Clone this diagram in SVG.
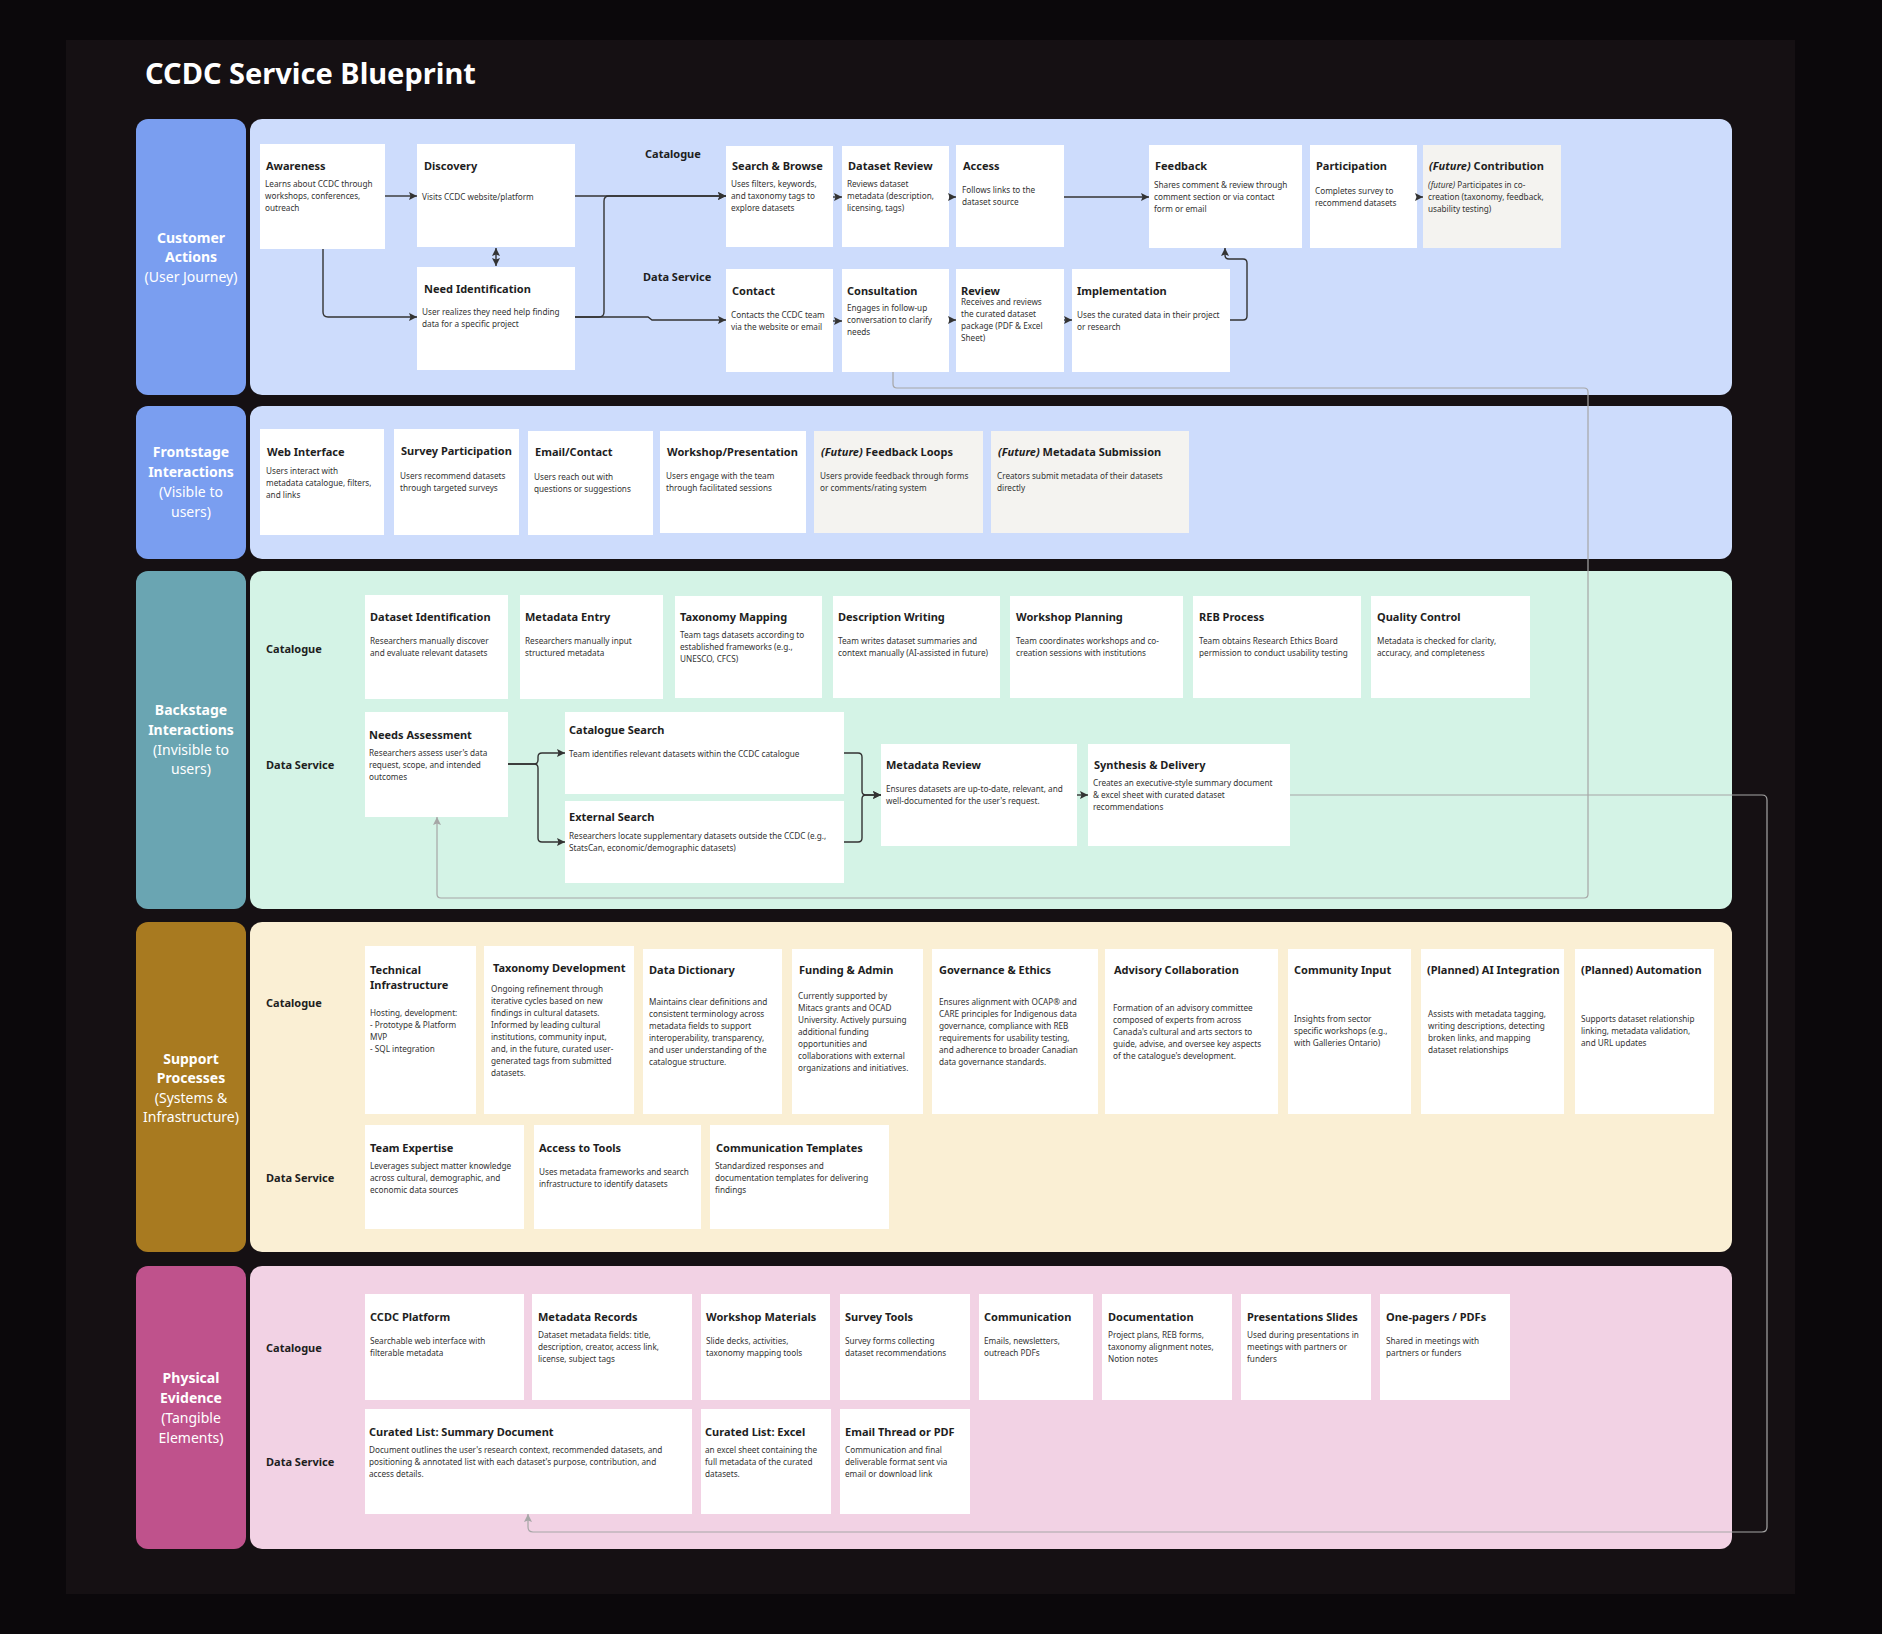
<svg xmlns="http://www.w3.org/2000/svg" width="1882" height="1634" viewBox="0 0 1882 1634">
<style>
.box{fill:#ffffff}
.fut{fill:#f4f3f0}
.t{font-family:"Noto Sans","Open Sans",sans-serif;font-weight:700;font-size:11px;fill:#1e1e1e}
.d{font-family:"Noto Sans","Open Sans",sans-serif;font-weight:400;font-size:8.2px;fill:#333333}
.rl{font-family:"Noto Sans","Open Sans",sans-serif;font-weight:700;font-size:11px;fill:#1e1e1e}
.ll{font-family:"Noto Sans","Open Sans",sans-serif;font-weight:700;font-size:14px;fill:#ffffff;text-anchor:middle}
.lr{font-weight:400}
.it{font-style:italic}
.c{fill:none;stroke:#333333;stroke-width:1.4}
.g{fill:none;stroke:#a6a6a6;stroke-width:1.2}
</style>
<defs>
<marker id="ah" viewBox="0 0 8 8" refX="8" refY="4" markerWidth="8" markerHeight="8" markerUnits="userSpaceOnUse" orient="auto-start-reverse"><path d="M0,0 L8,4 L0,8 L1.5,4 z" fill="#333333"/></marker>
<marker id="ahg" viewBox="0 0 8 8" refX="8" refY="4" markerWidth="8" markerHeight="8" markerUnits="userSpaceOnUse" orient="auto"><path d="M0,0 L8,4 L0,8 L1.5,4 z" fill="#a6a6a6"/></marker>
</defs>
<rect x="0" y="0" width="1882" height="1634" fill="#0b080b"/>
<rect x="66" y="40" width="1729" height="1554" fill="#151013"/>
<text x="145" y="84" font-family="Noto Sans, Open Sans, sans-serif" font-weight="700" font-size="29" fill="#ffffff">CCDC Service Blueprint</text>

<!-- Lanes -->
<g id="lane-customer">
<rect x="136" y="119" width="110" height="276" rx="12" fill="#7a9ef0"/>
<rect x="250" y="119" width="1482" height="276" rx="12" fill="#cddcfc"/>
<text class="ll"><tspan x="191" y="243">Customer</tspan><tspan x="191" y="262">Actions</tspan><tspan x="191" y="282" class="lr">(User Journey)</tspan></text>
<text class="rl" x="645" y="158">Catalogue</text>
<text class="rl" x="643" y="281">Data Service</text>
</g>
<g id="lane-frontstage">
<rect x="136" y="406" width="110" height="153" rx="12" fill="#7a9ef0"/>
<rect x="250" y="406" width="1482" height="153" rx="12" fill="#cddcfc"/>
<text class="ll"><tspan x="191" y="457">Frontstage</tspan><tspan x="191" y="477">Interactions</tspan><tspan x="191" y="497" class="lr">(Visible to</tspan><tspan x="191" y="517" class="lr">users)</tspan></text>
</g>
<g id="lane-backstage">
<rect x="136" y="571" width="110" height="338" rx="12" fill="#6aa5b2"/>
<rect x="250" y="571" width="1482" height="338" rx="12" fill="#d4f3e6"/>
<text class="ll"><tspan x="191" y="715">Backstage</tspan><tspan x="191" y="735">Interactions</tspan><tspan x="191" y="755" class="lr">(Invisible to</tspan><tspan x="191" y="774" class="lr">users)</tspan></text>
<text class="rl" x="266" y="653">Catalogue</text>
<text class="rl" x="266" y="769">Data Service</text>
</g>
<g id="lane-support">
<rect x="136" y="922" width="110" height="330" rx="12" fill="#a87a20"/>
<rect x="250" y="922" width="1482" height="330" rx="12" fill="#faefd4"/>
<text class="ll"><tspan x="191" y="1064">Support</tspan><tspan x="191" y="1083">Processes</tspan><tspan x="191" y="1103" class="lr">(Systems &amp;</tspan><tspan x="191" y="1122" class="lr">Infrastructure)</tspan></text>
<text class="rl" x="266" y="1007">Catalogue</text>
<text class="rl" x="266" y="1182">Data Service</text>
</g>
<g id="lane-physical">
<rect x="136" y="1266" width="110" height="283" rx="12" fill="#bf528c"/>
<rect x="250" y="1266" width="1482" height="283" rx="12" fill="#f2d2e4"/>
<text class="ll"><tspan x="191" y="1383">Physical</tspan><tspan x="191" y="1403">Evidence</tspan><tspan x="191" y="1423" class="lr">(Tangible</tspan><tspan x="191" y="1443" class="lr">Elements)</tspan></text>
<text class="rl" x="266" y="1352">Catalogue</text>
<text class="rl" x="266" y="1466">Data Service</text>
</g>

<!-- Customer Actions nodes -->
<g id="awareness"><rect class="box" x="260" y="144" width="125" height="105"/><text class="t" x="266" y="170">Awareness</text><text class="d"><tspan x="265" y="187">Learns about CCDC through</tspan><tspan x="265" y="199">workshops, conferences,</tspan><tspan x="265" y="211">outreach</tspan></text></g>
<g id="discovery"><rect class="box" x="417" y="144" width="158" height="103"/><text class="t" x="424" y="170">Discovery</text><text class="d"><tspan x="422" y="200">Visits CCDC website/platform</tspan></text></g>
<g id="need-identification"><rect class="box" x="417" y="267" width="158" height="103"/><text class="t" x="424" y="293">Need Identification</text><text class="d"><tspan x="422" y="315">User realizes they need help finding</tspan><tspan x="422" y="327">data for a specific project</tspan></text></g>
<g id="search-browse"><rect class="box" x="726" y="146" width="107" height="101"/><text class="t" x="732" y="170">Search &amp; Browse</text><text class="d"><tspan x="731" y="187">Uses filters, keywords,</tspan><tspan x="731" y="199">and taxonomy tags to</tspan><tspan x="731" y="211">explore datasets</tspan></text></g>
<g id="dataset-review"><rect class="box" x="842" y="146" width="107" height="101"/><text class="t" x="848" y="170">Dataset Review</text><text class="d"><tspan x="847" y="187">Reviews dataset</tspan><tspan x="847" y="199">metadata (description,</tspan><tspan x="847" y="211">licensing, tags)</tspan></text></g>
<g id="access"><rect class="box" x="956" y="145" width="108" height="102"/><text class="t" x="963" y="170">Access</text><text class="d"><tspan x="962" y="193">Follows links to the</tspan><tspan x="962" y="205">dataset source</tspan></text></g>
<g id="feedback"><rect class="box" x="1149" y="145" width="153" height="103"/><text class="t" x="1155" y="170">Feedback</text><text class="d"><tspan x="1154" y="188">Shares comment &amp; review through</tspan><tspan x="1154" y="200">comment section or via contact</tspan><tspan x="1154" y="212">form or email</tspan></text></g>
<g id="participation"><rect class="box" x="1310" y="145" width="107" height="103"/><text class="t" x="1316" y="170">Participation</text><text class="d"><tspan x="1315" y="194">Completes survey to</tspan><tspan x="1315" y="206">recommend datasets</tspan></text></g>
<g id="contribution"><rect class="fut" x="1423" y="145" width="138" height="103"/><text class="t" x="1429" y="170"><tspan class="it">(Future)</tspan> Contribution</text><text class="d"><tspan x="1428" y="188"><tspan class="it">(future)</tspan> Participates in co-</tspan><tspan x="1428" y="200">creation (taxonomy, feedback,</tspan><tspan x="1428" y="212">usability testing)</tspan></text></g>
<g id="contact"><rect class="box" x="726" y="269" width="107" height="103"/><text class="t" x="732" y="295">Contact</text><text class="d"><tspan x="731" y="318">Contacts the CCDC team</tspan><tspan x="731" y="330">via the website or email</tspan></text></g>
<g id="consultation"><rect class="box" x="842" y="269" width="107" height="103"/><text class="t" x="847" y="295">Consultation</text><text class="d"><tspan x="847" y="311">Engages in follow-up</tspan><tspan x="847" y="323">conversation to clarify</tspan><tspan x="847" y="335">needs</tspan></text></g>
<g id="review"><rect class="box" x="956" y="269" width="108" height="103"/><text class="t" x="961" y="295">Review</text><text class="d"><tspan x="961" y="305">Receives and reviews</tspan><tspan x="961" y="317">the curated dataset</tspan><tspan x="961" y="329">package (PDF &amp; Excel</tspan><tspan x="961" y="341">Sheet)</tspan></text></g>
<g id="implementation"><rect class="box" x="1072" y="269" width="158" height="103"/><text class="t" x="1077" y="295">Implementation</text><text class="d"><tspan x="1077" y="318">Uses the curated data in their project</tspan><tspan x="1077" y="330">or research</tspan></text></g>

<!-- Frontstage nodes -->
<g id="web-interface"><rect class="box" x="260" y="429" width="124" height="106"/><text class="t" x="267" y="456">Web Interface</text><text class="d"><tspan x="266" y="474">Users interact with</tspan><tspan x="266" y="486">metadata catalogue, filters,</tspan><tspan x="266" y="498">and links</tspan></text></g>
<g id="survey-participation"><rect class="box" x="394" y="429" width="125" height="106"/><text class="t" x="401" y="455">Survey Participation</text><text class="d"><tspan x="400" y="479">Users recommend datasets</tspan><tspan x="400" y="491">through targeted surveys</tspan></text></g>
<g id="email-contact"><rect class="box" x="528" y="431" width="125" height="104"/><text class="t" x="535" y="456">Email/Contact</text><text class="d"><tspan x="534" y="480">Users reach out with</tspan><tspan x="534" y="492">questions or suggestions</tspan></text></g>
<g id="workshop-presentation"><rect class="box" x="660" y="431" width="146" height="102"/><text class="t" x="667" y="456">Workshop/Presentation</text><text class="d"><tspan x="666" y="479">Users engage with the team</tspan><tspan x="666" y="491">through facilitated sessions</tspan></text></g>
<g id="feedback-loops"><rect class="fut" x="814" y="431" width="169" height="102"/><text class="t" x="821" y="456"><tspan class="it">(Future)</tspan> Feedback Loops</text><text class="d"><tspan x="820" y="479">Users provide feedback through forms</tspan><tspan x="820" y="491">or comments/rating system</tspan></text></g>
<g id="metadata-submission"><rect class="fut" x="991" y="431" width="198" height="102"/><text class="t" x="998" y="456"><tspan class="it">(Future)</tspan> Metadata Submission</text><text class="d"><tspan x="997" y="479">Creators submit metadata of their datasets</tspan><tspan x="997" y="491">directly</tspan></text></g>

<!-- Backstage nodes -->
<g id="dataset-identification"><rect class="box" x="365" y="595" width="143" height="104"/><text class="t" x="370" y="621">Dataset Identification</text><text class="d"><tspan x="370" y="644">Researchers manually discover</tspan><tspan x="370" y="656">and evaluate relevant datasets</tspan></text></g>
<g id="metadata-entry"><rect class="box" x="520" y="595" width="143" height="104"/><text class="t" x="525" y="621">Metadata Entry</text><text class="d"><tspan x="525" y="644">Researchers manually input</tspan><tspan x="525" y="656">structured metadata</tspan></text></g>
<g id="taxonomy-mapping"><rect class="box" x="675" y="596" width="147" height="102"/><text class="t" x="680" y="621">Taxonomy Mapping</text><text class="d"><tspan x="680" y="638">Team tags datasets according to</tspan><tspan x="680" y="650">established frameworks (e.g.,</tspan><tspan x="680" y="662">UNESCO, CFCS)</tspan></text></g>
<g id="description-writing"><rect class="box" x="833" y="596" width="167" height="102"/><text class="t" x="838" y="621">Description Writing</text><text class="d"><tspan x="838" y="644">Team writes dataset summaries and</tspan><tspan x="838" y="656">context manually (AI-assisted in future)</tspan></text></g>
<g id="workshop-planning"><rect class="box" x="1010" y="596" width="173" height="102"/><text class="t" x="1016" y="621">Workshop Planning</text><text class="d"><tspan x="1016" y="644">Team coordinates workshops and co-</tspan><tspan x="1016" y="656">creation sessions with institutions</tspan></text></g>
<g id="reb-process"><rect class="box" x="1193" y="596" width="168" height="102"/><text class="t" x="1199" y="621">REB Process</text><text class="d"><tspan x="1199" y="644">Team obtains Research Ethics Board</tspan><tspan x="1199" y="656">permission to conduct usability testing</tspan></text></g>
<g id="quality-control"><rect class="box" x="1371" y="596" width="159" height="102"/><text class="t" x="1377" y="621">Quality Control</text><text class="d"><tspan x="1377" y="644">Metadata is checked for clarity,</tspan><tspan x="1377" y="656">accuracy, and completeness</tspan></text></g>
<g id="needs-assessment"><rect class="box" x="365" y="712" width="143" height="105"/><text class="t" x="369" y="739">Needs Assessment</text><text class="d"><tspan x="369" y="756">Researchers assess user's data</tspan><tspan x="369" y="768">request, scope, and intended</tspan><tspan x="369" y="780">outcomes</tspan></text></g>
<g id="catalogue-search"><rect class="box" x="565" y="712" width="279" height="82"/><text class="t" x="569" y="734">Catalogue Search</text><text class="d"><tspan x="569" y="757">Team identifies relevant datasets within the CCDC catalogue</tspan></text></g>
<g id="external-search"><rect class="box" x="565" y="801" width="279" height="82"/><text class="t" x="569" y="821">External Search</text><text class="d"><tspan x="569" y="839">Researchers locate supplementary datasets outside the CCDC (e.g.,</tspan><tspan x="569" y="851">StatsCan, economic/demographic datasets)</tspan></text></g>
<g id="metadata-review"><rect class="box" x="881" y="744" width="196" height="102"/><text class="t" x="886" y="769">Metadata Review</text><text class="d"><tspan x="886" y="792">Ensures datasets are up-to-date, relevant, and</tspan><tspan x="886" y="804">well-documented for the user's request.</tspan></text></g>
<g id="synthesis-delivery"><rect class="box" x="1088" y="744" width="202" height="102"/><text class="t" x="1094" y="769">Synthesis &amp; Delivery</text><text class="d"><tspan x="1093" y="786">Creates an executive-style summary document</tspan><tspan x="1093" y="798">&amp; excel sheet with curated dataset</tspan><tspan x="1093" y="810">recommendations</tspan></text></g>

<!-- Support nodes -->
<g id="technical-infrastructure"><rect class="box" x="365" y="946" width="111" height="168"/><text class="t"><tspan x="370" y="974">Technical</tspan><tspan x="370" y="989">Infrastructure</tspan></text><text class="d"><tspan x="370" y="1016">Hosting, development:</tspan><tspan x="370" y="1028">- Prototype &amp; Platform</tspan><tspan x="370" y="1040">MVP</tspan><tspan x="370" y="1052">- SQL integration</tspan></text></g>
<g id="taxonomy-development"><rect class="box" x="484" y="946" width="150" height="168"/><text class="t" x="493" y="972">Taxonomy Development</text><text class="d"><tspan x="491" y="992">Ongoing refinement through</tspan><tspan x="491" y="1004">iterative cycles based on new</tspan><tspan x="491" y="1016">findings in cultural datasets.</tspan><tspan x="491" y="1028">Informed by leading cultural</tspan><tspan x="491" y="1040">institutions, community input,</tspan><tspan x="491" y="1052">and, in the future, curated user-</tspan><tspan x="491" y="1064">generated tags from submitted</tspan><tspan x="491" y="1076">datasets.</tspan></text></g>
<g id="data-dictionary"><rect class="box" x="643" y="949" width="139" height="165"/><text class="t" x="649" y="974">Data Dictionary</text><text class="d"><tspan x="649" y="1005">Maintains clear definitions and</tspan><tspan x="649" y="1017">consistent terminology across</tspan><tspan x="649" y="1029">metadata fields to support</tspan><tspan x="649" y="1041">interoperability, transparency,</tspan><tspan x="649" y="1053">and user understanding of the</tspan><tspan x="649" y="1065">catalogue structure.</tspan></text></g>
<g id="funding-admin"><rect class="box" x="792" y="949" width="131" height="165"/><text class="t" x="799" y="974">Funding &amp; Admin</text><text class="d"><tspan x="798" y="999">Currently supported by</tspan><tspan x="798" y="1011">Mitacs grants and OCAD</tspan><tspan x="798" y="1023">University. Actively pursuing</tspan><tspan x="798" y="1035">additional funding</tspan><tspan x="798" y="1047">opportunities and</tspan><tspan x="798" y="1059">collaborations with external</tspan><tspan x="798" y="1071">organizations and initiatives.</tspan></text></g>
<g id="governance-ethics"><rect class="box" x="932" y="949" width="166" height="165"/><text class="t" x="939" y="974">Governance &amp; Ethics</text><text class="d"><tspan x="939" y="1005">Ensures alignment with OCAP® and</tspan><tspan x="939" y="1017">CARE principles for Indigenous data</tspan><tspan x="939" y="1029">governance, compliance with REB</tspan><tspan x="939" y="1041">requirements for usability testing,</tspan><tspan x="939" y="1053">and adherence to broader Canadian</tspan><tspan x="939" y="1065">data governance standards.</tspan></text></g>
<g id="advisory-collaboration"><rect class="box" x="1105" y="949" width="173" height="165"/><text class="t" x="1114" y="974">Advisory Collaboration</text><text class="d"><tspan x="1113" y="1011">Formation of an advisory committee</tspan><tspan x="1113" y="1023">composed of experts from across</tspan><tspan x="1113" y="1035">Canada's cultural and arts sectors to</tspan><tspan x="1113" y="1047">guide, advise, and oversee key aspects</tspan><tspan x="1113" y="1059">of the catalogue's development.</tspan></text></g>
<g id="community-input"><rect class="box" x="1288" y="949" width="123" height="165"/><text class="t" x="1294" y="974">Community Input</text><text class="d"><tspan x="1294" y="1022">Insights from sector</tspan><tspan x="1294" y="1034">specific workshops (e.g.,</tspan><tspan x="1294" y="1046">with Galleries Ontario)</tspan></text></g>
<g id="ai-integration"><rect class="box" x="1421" y="949" width="143" height="165"/><text class="t" x="1427" y="974">(Planned) AI Integration</text><text class="d"><tspan x="1428" y="1017">Assists with metadata tagging,</tspan><tspan x="1428" y="1029">writing descriptions, detecting</tspan><tspan x="1428" y="1041">broken links, and mapping</tspan><tspan x="1428" y="1053">dataset relationships</tspan></text></g>
<g id="automation"><rect class="box" x="1575" y="949" width="139" height="165"/><text class="t" x="1581" y="974">(Planned) Automation</text><text class="d"><tspan x="1581" y="1022">Supports dataset relationship</tspan><tspan x="1581" y="1034">linking, metadata validation,</tspan><tspan x="1581" y="1046">and URL updates</tspan></text></g>
<g id="team-expertise"><rect class="box" x="365" y="1125" width="159" height="104"/><text class="t" x="370" y="1152">Team Expertise</text><text class="d"><tspan x="370" y="1169">Leverages subject matter knowledge</tspan><tspan x="370" y="1181">across cultural, demographic, and</tspan><tspan x="370" y="1193">economic data sources</tspan></text></g>
<g id="access-tools"><rect class="box" x="534" y="1125" width="167" height="104"/><text class="t" x="539" y="1152">Access to Tools</text><text class="d"><tspan x="539" y="1175">Uses metadata frameworks and search</tspan><tspan x="539" y="1187">infrastructure to identify datasets</tspan></text></g>
<g id="communication-templates"><rect class="box" x="710" y="1125" width="179" height="104"/><text class="t" x="716" y="1152">Communication Templates</text><text class="d"><tspan x="715" y="1169">Standardized responses and</tspan><tspan x="715" y="1181">documentation templates for delivering</tspan><tspan x="715" y="1193">findings</tspan></text></g>

<!-- Physical nodes -->
<g id="ccdc-platform"><rect class="box" x="365" y="1294" width="159" height="106"/><text class="t" x="370" y="1321">CCDC Platform</text><text class="d"><tspan x="370" y="1344">Searchable web interface with</tspan><tspan x="370" y="1356">filterable metadata</tspan></text></g>
<g id="metadata-records"><rect class="box" x="532" y="1294" width="160" height="106"/><text class="t" x="538" y="1321">Metadata Records</text><text class="d"><tspan x="538" y="1338">Dataset metadata fields: title,</tspan><tspan x="538" y="1350">description, creator, access link,</tspan><tspan x="538" y="1362">license, subject tags</tspan></text></g>
<g id="workshop-materials"><rect class="box" x="701" y="1294" width="129" height="106"/><text class="t" x="706" y="1321">Workshop Materials</text><text class="d"><tspan x="706" y="1344">Slide decks, activities,</tspan><tspan x="706" y="1356">taxonomy mapping tools</tspan></text></g>
<g id="survey-tools"><rect class="box" x="840" y="1294" width="130" height="106"/><text class="t" x="845" y="1321">Survey Tools</text><text class="d"><tspan x="845" y="1344">Survey forms collecting</tspan><tspan x="845" y="1356">dataset recommendations</tspan></text></g>
<g id="communication"><rect class="box" x="979" y="1294" width="114" height="106"/><text class="t" x="984" y="1321">Communication</text><text class="d"><tspan x="984" y="1344">Emails, newsletters,</tspan><tspan x="984" y="1356">outreach PDFs</tspan></text></g>
<g id="documentation"><rect class="box" x="1102" y="1294" width="130" height="106"/><text class="t" x="1108" y="1321">Documentation</text><text class="d"><tspan x="1108" y="1338">Project plans, REB forms,</tspan><tspan x="1108" y="1350">taxonomy alignment notes,</tspan><tspan x="1108" y="1362">Notion notes</tspan></text></g>
<g id="presentation-slides"><rect class="box" x="1241" y="1294" width="130" height="106"/><text class="t" x="1247" y="1321">Presentations Slides</text><text class="d"><tspan x="1247" y="1338">Used during presentations in</tspan><tspan x="1247" y="1350">meetings with partners or</tspan><tspan x="1247" y="1362">funders</tspan></text></g>
<g id="one-pagers"><rect class="box" x="1380" y="1294" width="130" height="106"/><text class="t" x="1386" y="1321">One-pagers / PDFs</text><text class="d"><tspan x="1386" y="1344">Shared in meetings with</tspan><tspan x="1386" y="1356">partners or funders</tspan></text></g>
<g id="summary-document"><rect class="box" x="365" y="1409" width="327" height="105"/><text class="t" x="369" y="1436">Curated List: Summary Document</text><text class="d"><tspan x="369" y="1453">Document outlines the user's research context, recommended datasets, and</tspan><tspan x="369" y="1465">positioning &amp; annotated list with each dataset's purpose, contribution, and</tspan><tspan x="369" y="1477">access details.</tspan></text></g>
<g id="curated-excel"><rect class="box" x="701" y="1409" width="130" height="105"/><text class="t" x="705" y="1436">Curated List: Excel</text><text class="d"><tspan x="705" y="1453">an excel sheet containing the</tspan><tspan x="705" y="1465">full metadata of the curated</tspan><tspan x="705" y="1477">datasets.</tspan></text></g>
<g id="email-thread"><rect class="box" x="840" y="1409" width="130" height="105"/><text class="t" x="845" y="1436">Email Thread or PDF</text><text class="d"><tspan x="845" y="1453">Communication and final</tspan><tspan x="845" y="1465">deliverable format sent via</tspan><tspan x="845" y="1477">email or download link</tspan></text></g>

<!-- Connectors -->
<g id="connectors">
<path class="c" marker-end="url(#ah)" d="M385,196 H417"/>
<path class="c" marker-start="url(#ah)" marker-end="url(#ah)" d="M496,248 V266"/>
<path class="c" marker-end="url(#ah)" d="M323,249 V312 Q323,317 328,317 H417"/>
<path class="c" marker-end="url(#ah)" d="M575,196 H726"/>
<path class="c" marker-end="url(#ah)" d="M575,317 H599 Q604,317 604,312 V201 Q604,196 609,196 H726"/>
<path class="c" marker-end="url(#ah)" d="M575,317 H648 L652,320 H726"/>
<path class="c" marker-end="url(#ah)" d="M833,197 H842"/>
<path class="c" marker-end="url(#ah)" d="M949,197 H956"/>
<path class="c" marker-end="url(#ah)" d="M1064,197 H1149"/>
<path class="c" marker-end="url(#ah)" d="M1417,197 H1423"/>
<path class="c" marker-end="url(#ah)" d="M833,321 H842"/>
<path class="c" marker-end="url(#ah)" d="M949,320 H956"/>
<path class="c" marker-end="url(#ah)" d="M1064,320 H1072"/>
<path class="c" marker-end="url(#ah)" d="M1230,320 H1243 Q1247,320 1247,316 V263 Q1247,259 1243,259 H1229 Q1225,259 1225,255 V248"/>
<path class="g" marker-end="url(#ahg)" d="M893,372 V384 Q893,388 897,388 H1584 Q1588,388 1588,392 V894 Q1588,898 1584,898 H441 Q437,898 437,894 V817"/>
<path class="c" marker-end="url(#ah)" d="M508,764 H534 Q538,764 538,760 V757 Q538,753 542,753 H565"/>
<path class="c" marker-end="url(#ah)" d="M508,764 H534 Q538,764 538,768 V838 Q538,842 542,842 H565"/>
<path class="c" marker-end="url(#ah)" d="M844,753 H858 Q862,753 862,757 V791 Q862,795 866,795 H881"/>
<path class="c" marker-end="url(#ah)" d="M844,842 H858 Q862,842 862,838 V799 Q862,795 866,795 H881"/>
<path class="c" marker-end="url(#ah)" d="M1077,795 H1088"/>
<path class="g" marker-end="url(#ahg)" d="M1290,795 H1762 Q1767,795 1767,800 V1527 Q1767,1532 1762,1532 H533 Q528,1532 528,1527 V1514"/>
</g>
</svg>
